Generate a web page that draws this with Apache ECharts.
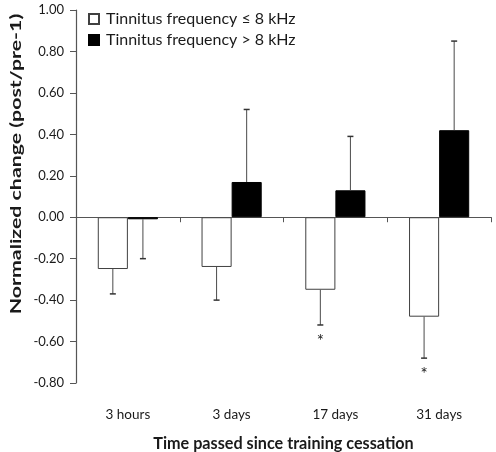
<!DOCTYPE html>
<html>
<head>
<meta charset="utf-8">
<script src="https://cdn.jsdelivr.net/npm/echarts@6/dist/echarts.min.js"></script>
<style>html,body{margin:0;padding:0;background:#fff;}#c{width:496px;height:452px;}</style>
</head>
<body>
<div id="c"></div>
<script>
var categories = ['3 hours', '3 days', '17 days', '31 days'];
var seriesNames = ['Tinnitus frequency \u2264 8 kHz', 'Tinnitus frequency > 8 kHz'];
var lowValues = [-0.25, -0.24, -0.35, -0.48];
var lowErrors = [-0.37, -0.40, -0.52, -0.68];
var lowSignificant = [false, false, true, true];
var highValues = [-0.01, 0.17, 0.13, 0.42];
var highErrors = [-0.20, 0.52, 0.39, 0.85];
var highSignificant = [false, false, false, false];
var yTitle = 'Normalized change (post/pre-1)';
var xTitle = 'Time passed since training cessation';

var FONT = 'Lato';
var TXT = '#1a1a1a';
var AX = '#555555';
var GAP = 0.42;

function errSeries(values, errs, sig, idx) {
  return {
    type: 'custom',
    xAxisIndex: 0,
    z: 5,
    data: values.map(function (v, i) { return [i, v, errs[i], sig[i] ? 1 : 0]; }),
    renderItem: function (params, api) {
      var i = api.value(0);
      var base = api.coord([i, api.value(1)]);
      var end = api.coord([i, api.value(2)]);
      var cw = api.size([1, 0])[0];
      var bw = cw * (1 - GAP) / 2;
      var x = base[0] + (idx === 0 ? -bw / 2 : bw / 2);
      var down = end[1] > base[1];
      var children = [
        { type: 'line', shape: { x1: x, y1: base[1], x2: x, y2: end[1] }, style: { stroke: '#4a4a4a', lineWidth: 1 } },
        { type: 'line', shape: { x1: x - 3, y1: end[1], x2: x + 3, y2: end[1] }, style: { stroke: '#333', lineWidth: 1.5 } }
      ];
      if (api.value(3)) {
        children.push({ type: 'text', style: { text: '*', x: x, y: end[1] + (down ? 8 : -22), align: 'center', verticalAlign: 'top', font: '17px ' + FONT, fill: TXT } });
      }
      return { type: 'group', children: children };
    }
  };
}

var chart = echarts.init(document.getElementById('c'), null, { renderer: 'canvas' });
chart.setOption({
  animation: false,
  backgroundColor: '#fff',
  grid: { left: 76, right: 5, top: 10, bottom: 69, containLabel: false, outerBoundsMode: 'none' },
  legend: {
    left: 83, top: 6, orient: 'vertical', itemGap: 5,
    itemWidth: 10, itemHeight: 10, icon: 'rect',
    textStyle: { fontFamily: FONT, fontSize: 16, color: TXT, padding: [0, 0, 0, 2] },
    data: seriesNames
  },
  graphic: [{
    type: 'text', x: 16.5, y: 164, rotation: Math.PI / 2, scaleX: 1.42, scaleY: 1,
    style: { text: yTitle, font: 'bold 15px ' + FONT, fill: TXT, align: 'center', verticalAlign: 'middle' }
  }],
  xAxis: [{
    type: 'category', data: categories, position: 'bottom',
    axisLine: { onZero: true, lineStyle: { color: AX, width: 1.2 } },
    axisTick: { show: true, length: 5, lineStyle: { color: AX } },
    axisLabel: { show: false },
    splitLine: { show: false }
  }, {
    type: 'category', data: categories, position: 'bottom',
    axisLine: { show: false, onZero: false },
    axisTick: { show: false },
    axisLabel: { show: true, margin: 25, fontFamily: FONT, fontSize: 13.5, color: TXT },
    name: xTitle, nameLocation: 'middle', nameGap: 53,
    nameTextStyle: { fontFamily: FONT, fontSize: 16.2, fontWeight: 'bold', color: TXT }
  }],
  yAxis: {
    type: 'value', min: -0.8, max: 1.0, interval: 0.2,
    axisLine: { show: true, lineStyle: { color: AX, width: 1.2 } },
    axisTick: { show: true, length: 6, lineStyle: { color: AX } },
    splitLine: { show: false },
    axisLabel: { margin: 12, fontFamily: FONT, fontSize: 13, color: TXT, formatter: function (v) { return v.toFixed(2); } }
  },
  series: [{
    name: seriesNames[0], type: 'bar', xAxisIndex: 0, data: lowValues,
    barGap: '0%', barCategoryGap: (GAP * 100) + '%',
    itemStyle: { color: '#ffffff', borderColor: '#404040', borderWidth: 1 }
  }, {
    name: seriesNames[1], type: 'bar', xAxisIndex: 0, data: highValues,
    itemStyle: { color: '#000000', borderColor: '#000000', borderWidth: 1 }
  },
  errSeries(lowValues, lowErrors, lowSignificant, 0),
  errSeries(highValues, highErrors, highSignificant, 1)
  ]
});
</script>
</body>
</html>
